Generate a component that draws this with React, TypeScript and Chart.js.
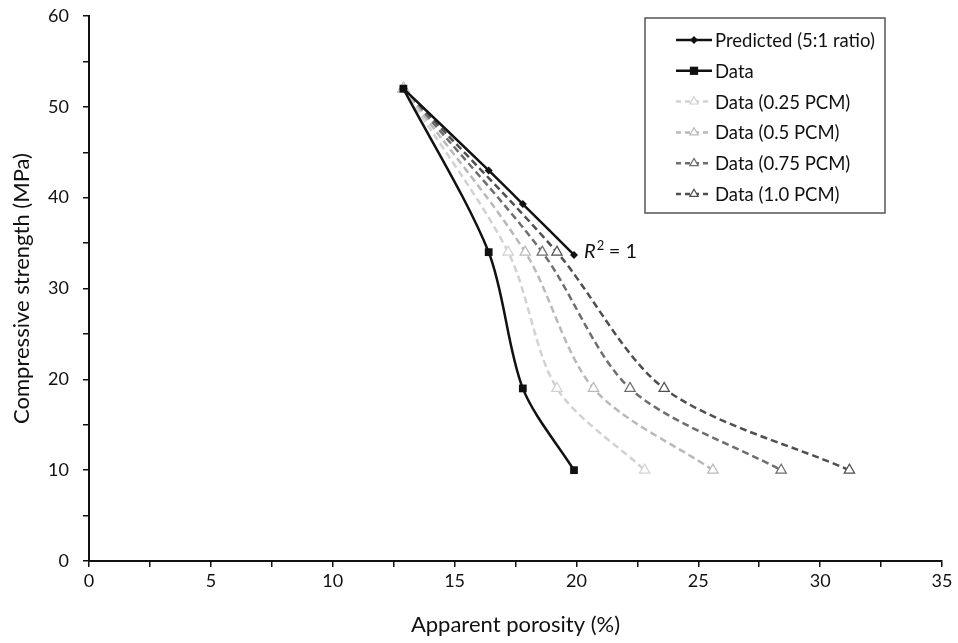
import React, { useEffect, useRef } from "react";
import { Chart, registerables } from "chart.js";

Chart.register(...registerables);

const FONT = "Lato, 'Open Sans', sans-serif";

const seriesNames = [
  "Predicted (5:1 ratio)",
  "Data",
  "Data (0.25 PCM)",
  "Data (0.5 PCM)",
  "Data (0.75 PCM)",
  "Data (1.0 PCM)",
];

const predictedX = [12.9, 16.4, 17.8, 19.9];
const predictedY = [52, 43, 39.3, 33.7];

const dataX = [12.9, 16.4, 17.8, 19.9];
const dataY = [52, 34, 19, 10];

const pcm025X = [12.9, 17.2, 19.2, 22.8];
const pcm05X = [12.9, 17.9, 20.7, 25.6];
const pcm075X = [12.9, 18.6, 22.2, 28.4];
const pcm10X = [12.9, 19.2, 23.6, 31.2];
const pcmY = [52, 34, 19, 10];

const xTicks = { min: 0, max: 35, step: 2.5, labelEvery: 5 };
const yTicks = { min: 0, max: 60, step: 5, labelEvery: 10 };

const colors = ["#111111", "#111111", "#d2d2d2", "#b9b9b9", "#6e6e6e", "#4f4f4f"];

function pts(xs: number[], ys: number[]) {
  return xs.map((x, i) => ({ x, y: ys[i] }));
}

const legendPlugin = {
  id: "boxLegend",
  afterDraw(chart: any) {
    const ctx = chart.ctx;
    const ds = chart.data.datasets;
    const left = 645;
    const top = 18;
    const w = 240;
    const h = 195;
    ctx.save();
    ctx.strokeStyle = "#555";
    ctx.lineWidth = 1.5;
    ctx.strokeRect(left, top, w, h);
    ctx.font = `18.5px ${FONT}`;
    ctx.textBaseline = "middle";
    ctx.textAlign = "left";
    ds.forEach((d: any, i: number) => {
      const y = top + 22 + i * 30.8;
      const x0 = left + 31;
      const x1 = left + 67;
      ctx.save();
      ctx.strokeStyle = d.borderColor;
      ctx.lineWidth = d.borderWidth;
      ctx.setLineDash(d.borderDash && d.borderDash.length ? [5, 4] : []);
      ctx.beginPath();
      ctx.moveTo(x0, y);
      ctx.lineTo(x1, y);
      ctx.stroke();
      ctx.setLineDash([]);
      const cx = (x0 + x1) / 2;
      ctx.fillStyle = d.pointBackgroundColor;
      ctx.strokeStyle = d.pointBorderColor;
      ctx.lineWidth = d.pointBorderWidth;
      const r = d.pointRadius;
      ctx.beginPath();
      if (d.pointStyle === "rectRot") {
        ctx.moveTo(cx, y - r);
        ctx.lineTo(cx + r, y);
        ctx.lineTo(cx, y + r);
        ctx.lineTo(cx - r, y);
        ctx.closePath();
        ctx.fill();
      } else if (d.pointStyle === "rect") {
        ctx.rect(cx - r * 0.75, y - r * 0.75, r * 1.5, r * 1.5);
        ctx.fill();
      } else {
        const rr = r * 0.8;
        ctx.moveTo(cx, y - rr);
        ctx.lineTo(cx + rr * 0.87, y + rr * 0.5);
        ctx.lineTo(cx - rr * 0.87, y + rr * 0.5);
        ctx.closePath();
        ctx.fill();
        ctx.stroke();
      }
      ctx.restore();
      ctx.fillStyle = "#111";
      ctx.fillText(d.label, x1 + 3, y + 1);
    });
    const xs = chart.scales.x;
    const ys = chart.scales.y;
    const px = xs.getPixelForValue(predictedX[predictedX.length - 1]) + 10;
    const py = ys.getPixelForValue(predictedY[predictedY.length - 1]) - 3;
    ctx.fillStyle = "#111";
    ctx.textBaseline = "middle";
    ctx.font = `italic 20px ${FONT}`;
    ctx.fillText("R", px, py);
    const rw = ctx.measureText("R").width;
    ctx.font = `13px ${FONT}`;
    ctx.fillText("2", px + rw + 1, py - 6);
    ctx.font = `20px ${FONT}`;
    ctx.fillText(" = 1", px + rw + 8, py);
    ctx.restore();
  },
};

export default function App() {
  const ref = useRef<HTMLCanvasElement>(null);
  useEffect(() => {
    if (!ref.current) return;
    document.body.style.margin = "0";
    document.body.style.overflow = "hidden";
    const xsList = [predictedX, dataX, pcm025X, pcm05X, pcm075X, pcm10X];
    const ysList = [predictedY, dataY, pcmY, pcmY, pcmY, pcmY];
    const datasets = seriesNames.map((name, i) => {
      const isTri = i >= 2;
      return {
        label: name,
        data: pts(xsList[i], ysList[i]),
        borderColor: colors[i],
        borderWidth: 2.5,
        borderDash: isTri ? [7, 4] : [],
        tension: 0.3,
        showLine: true,
        fill: false,
        pointStyle: i === 0 ? "rectRot" : i === 1 ? "rect" : "triangle",
        pointRadius: i === 0 ? 4 : i === 1 ? 5.5 : 6,
        pointBackgroundColor: isTri ? "#ffffff" : colors[i],
        pointBorderColor: colors[i],
        pointBorderWidth: isTri ? 1.2 : 0,
      };
    });
    const tickColor = "#111";
    const chart = new Chart(ref.current, {
      type: "scatter",
      data: { datasets: datasets as any },
      options: {
        responsive: false,
        animation: false,
        layout: { padding: 0 },
        plugins: { legend: { display: false }, tooltip: { enabled: false } },
        scales: {
          x: {
            type: "linear",
            min: xTicks.min,
            max: xTicks.max,
            afterFit: (s: any) => {
              s.height = 82;
              s.paddingRight = 16;
              s.paddingLeft = 0;
            },
            afterBuildTicks: (s: any) => {
              const t = [];
              for (let v = xTicks.min; v <= xTicks.max + 1e-9; v += xTicks.step) t.push({ value: v });
              s.ticks = t;
            },
            ticks: {
              color: tickColor,
              font: { family: FONT, size: 18 },
              padding: 3,
              maxRotation: 0,
              autoSkip: false,
              callback: (v: any) => (Math.abs(v % xTicks.labelEvery) < 1e-9 ? String(v) : ""),
            },
            grid: {
              drawOnChartArea: false,
              drawTicks: true,
              tickLength: 6,
              color: "#111",
              lineWidth: 1.5,
            },
            border: { color: "#111", width: 2 },
            title: {
              display: true,
              text: "Apparent porosity (%)",
              color: tickColor,
              font: { family: FONT, size: 22 },
              padding: { top: 0, bottom: 5 },
            },
          },
          y: {
            type: "linear",
            min: yTicks.min,
            max: yTicks.max,
            afterFit: (s: any) => {
              s.width = 89;
              s.paddingTop = 16;
              s.paddingBottom = 0;
            },
            afterBuildTicks: (s: any) => {
              const t = [];
              for (let v = yTicks.min; v <= yTicks.max + 1e-9; v += yTicks.step) t.push({ value: v });
              s.ticks = t;
            },
            ticks: {
              color: tickColor,
              font: { family: FONT, size: 18 },
              padding: 14,
              autoSkip: false,
              callback: (v: any) => (Math.abs(v % yTicks.labelEvery) < 1e-9 ? String(v) : ""),
            },
            grid: {
              drawOnChartArea: false,
              drawTicks: true,
              tickLength: 6,
              color: "#111",
              lineWidth: 1.5,
            },
            border: { color: "#111", width: 2 },
            title: {
              display: true,
              text: "Compressive strength (MPa)",
              color: tickColor,
              font: { family: FONT, size: 22 },
              padding: { top: 9, bottom: 0 },
            },
          },
        },
      },
      plugins: [legendPlugin],
    });
    return () => chart.destroy();
  }, []);
  return (
    <div style={{ width: 958, height: 643 }}>
      <canvas ref={ref} width={958} height={643} style={{ display: "block" }} />
    </div>
  );
}
